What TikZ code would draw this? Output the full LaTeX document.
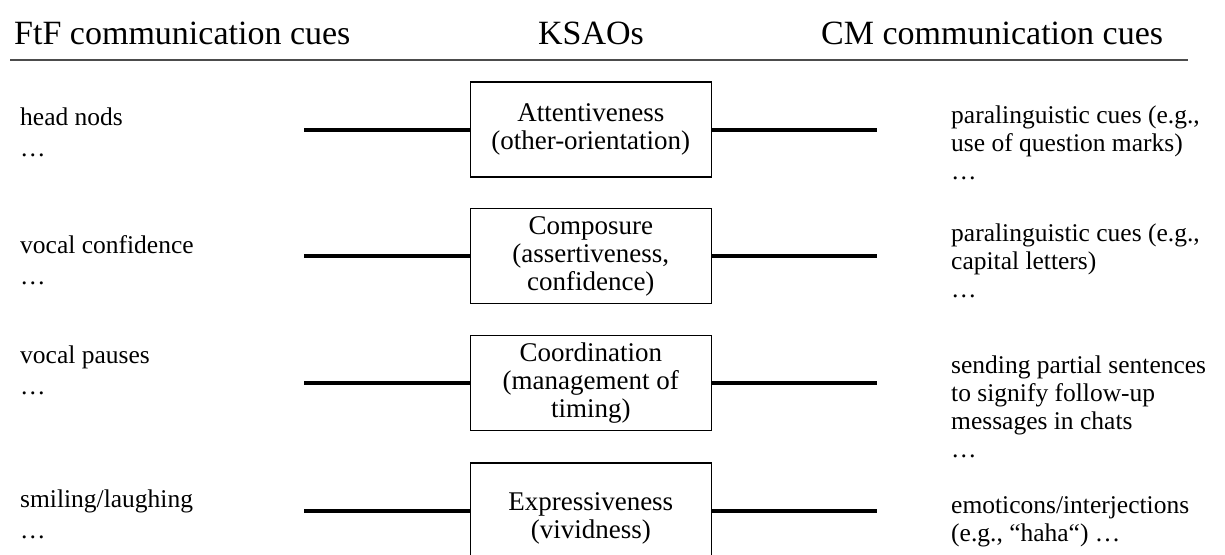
\documentclass[tikz,border=0pt]{standalone}
\usepackage{fontspec}
\setmainfont{Liberation Serif}
\begin{document}
\begin{tikzpicture}[x=1pt,y=-1pt,
  head/.style={font=\fontsize{34}{40}\selectfont, anchor=base west, inner sep=0pt},
  ftfcue/.style={font=\fontsize{25.5}{31}\selectfont, anchor=base west, align=left, inner sep=0pt},
  cmcue/.style={font=\fontsize{25.5}{28}\selectfont, anchor=base west, align=left, inner sep=0pt},
  ksao/.style={draw, line width=1.2pt, minimum width=241pt, minimum height=95pt,
               inner sep=0pt, align=center, font=\fontsize{27}{28}\selectfont},
  link/.style={line width=4pt}]
\path[use as bounding box, clip] (0,0) rectangle (1225,554);

% column headings and rule
\node[head] (hftf) at (14,44) {FtF communication cues};
\node[head, anchor=base] (hksao) at (591,44) {KSAOs};
\node[head] (hcm) at (821,44) {CM communication cues};
\coordinate (ruleL) at (10,60);
\coordinate (ruleR) at (1188,60);
\draw[line width=1.2pt, black!70] (ruleL) -- (ruleR);

% KSAO boxes (the last one runs past the lower edge)
\node[ksao] (k1) at (590.75,129.5) {Attentiveness\\(other-orientation)};
\node[ksao] (k2) at (590.75,256) {Composure\\(assertiveness,\\confidence)};
\node[ksao] (k3) at (590.75,383) {Coordination\\(management of\\timing)};
\node[ksao, minimum height=111pt] (k4) at (590.75,518.5) {Expressiveness\\(vividness)};

% face-to-face cues (anchored on the baseline of their last line)
\node[ftfcue] (f1) at (20,156) {head nods\\\dots};
\node[ftfcue] (f2) at (20,284) {vocal confidence\\\dots};
\node[ftfcue] (f3) at (20,394) {vocal pauses\\\dots};
\node[ftfcue] (f4) at (20,538) {smiling/laughing\\\dots};

% computer-mediated cues (anchored on the baseline of their last line)
\node[cmcue] (c1) at (951,179) {paralinguistic cues (e.g.,\\use of question marks)\\\dots};
\node[cmcue] (c2) at (951,297) {paralinguistic cues (e.g.,\\capital letters)\\\dots};
\node[cmcue] (c3) at (951,457) {sending partial sentences\\to signify follow-up\\messages in chats\\\dots};
\node[cmcue] (c4) at (951,541) {emoticons/interjections\\(e.g., “haha“) …};

% connectors
\foreach \i/\y in {1/129.5,2/256,3/383,4/511}{
  \coordinate (l\i) at (304,\y);
  \coordinate (r\i) at (877,\y);
  \draw[link] (l\i) -- (l\i -| k\i.west);
  \draw[link] (r\i -| k\i.east) -- (r\i);
}
\end{tikzpicture}
\end{document}
